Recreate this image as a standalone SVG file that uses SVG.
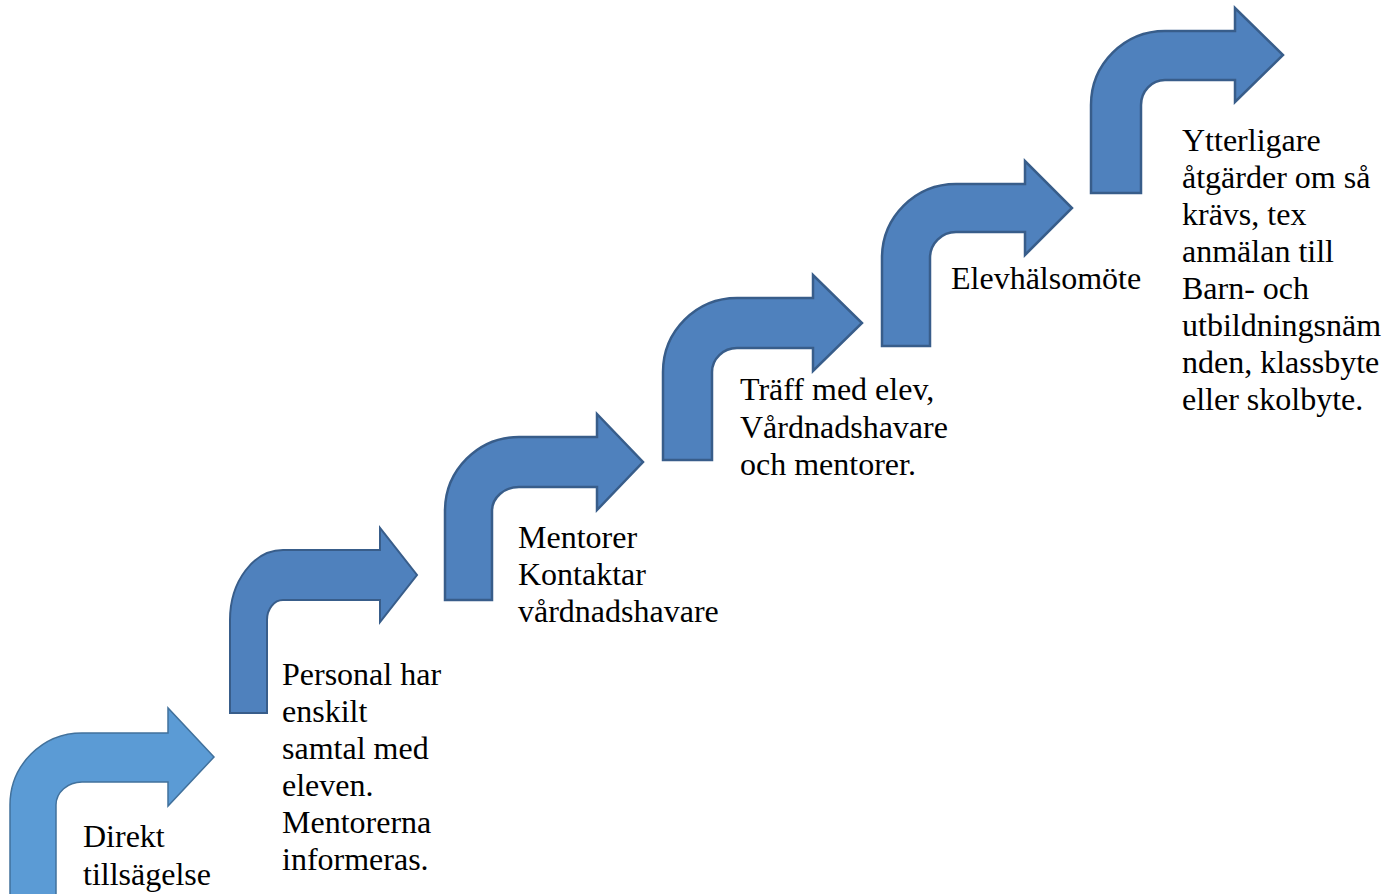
<svg xmlns="http://www.w3.org/2000/svg" width="1400" height="894" viewBox="0 0 1400 894">
<style>
.a1{fill:#5B9BD5;stroke:#41719C;stroke-width:1.5;stroke-linejoin:miter}
.a{fill:#4F81BD;stroke:#385D8A;stroke-width:2.5;stroke-linejoin:miter}
.t{font-family:"Liberation Serif","Times New Roman",serif;font-size:32px;fill:#000}
</style>
<rect width="1400" height="894" fill="#fff"/>
<g id="connectors"></g>
<g id="step1">
<path class="a1" d="M10,900 L10,805 A72,72 0 0 1 82,733 L168,733 L168,708 L214,757 L168,806 L168,782 L82,782 A26,23 0 0 0 56,805 L56,900 Z"/>
<text class="t" x="83"><tspan x="83" y="847">Direkt</tspan><tspan x="83" y="885">tillsägelse</tspan></text>
</g>
<g id="step2">
<path class="a" style="stroke-width:2" d="M230,713 L230,620 A53,70 0 0 1 283,550 L380,550 L380,528 L417,575 L380,622 L380,600 L283,600 A16,20 0 0 0 267,620 L267,713 Z"/>
<text class="t"><tspan x="282" y="685">Personal har</tspan><tspan x="282" y="722">enskilt</tspan><tspan x="282" y="759">samtal med</tspan><tspan x="282" y="796">eleven.</tspan><tspan x="282" y="833">Mentorerna</tspan><tspan x="282" y="870">informeras.</tspan></text>
</g>
<g id="step3">
<path class="a" d="M445,600 L445,511 A74,74 0 0 1 519,437 L597,437 L597,414 L643,462 L597,510 L597,487 L519,487 A27,24 0 0 0 492,511 L492,600 Z"/>
<text class="t"><tspan x="518" y="548">Mentorer</tspan><tspan x="518" y="585">Kontaktar</tspan><tspan x="518" y="622">vårdnadshavare</tspan></text>
</g>
<g id="step4">
<path class="a" d="M663,460 L663,372 A74,74 0 0 1 737,298 L813,298 L813,275 L862,323 L813,371 L813,348 L737,348 A25,24 0 0 0 712,372 L712,460 Z"/>
<text class="t"><tspan x="740" y="400">Träff med elev,</tspan><tspan x="740" y="438">Vårdnadshavare</tspan><tspan x="740" y="475">och mentorer.</tspan></text>
</g>
<g id="step5">
<path class="a" d="M882,346 L882,258 A74,74 0 0 1 956,184 L1025,184 L1025,161 L1072,208 L1025,255 L1025,232 L956,232 A26,26 0 0 0 930,258 L930,346 Z"/>
<text class="t" x="951" y="289">Elevhälsomöte</text>
</g>
<g id="step6">
<path class="a" d="M1091,193 L1091,105 A74,74 0 0 1 1165,31 L1235,31 L1235,8 L1283,55 L1235,102 L1235,80 L1165,80 A24,25 0 0 0 1141,105 L1141,193 Z"/>
<text class="t"><tspan x="1182" y="151">Ytterligare</tspan><tspan x="1182" y="188">åtgärder om så</tspan><tspan x="1182" y="225">krävs, tex</tspan><tspan x="1182" y="262">anmälan till</tspan><tspan x="1182" y="299">Barn- och</tspan><tspan x="1182" y="336">utbildningsnäm</tspan><tspan x="1182" y="373">nden, klassbyte</tspan><tspan x="1182" y="410">eller skolbyte.</tspan></text>
</g>
</svg>
